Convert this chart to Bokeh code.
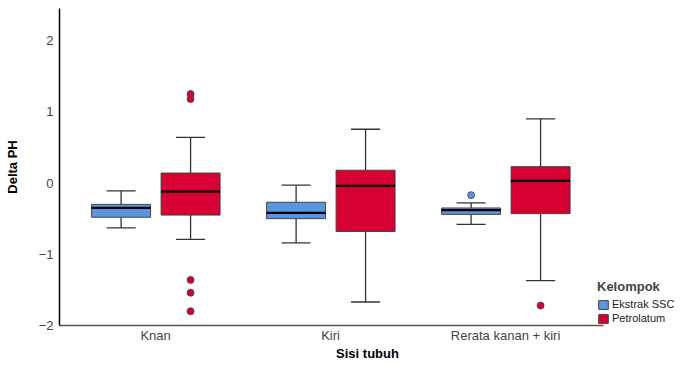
import numpy as np
from bokeh.plotting import figure
from bokeh.models import ColumnDataSource, FixedTicker, Legend, LegendItem, Range1d
from bokeh.embed import file_html
from bokeh.resources import INLINE

categories = ["Knan", "Kiri", "Rerata kanan + kiri"]
groups = ["Ekstrak SSC", "Petrolatum"]

# Ekstrak SSC
ssc_low = [-0.63, -0.84, -0.58]
ssc_q1 = [-0.48, -0.50, -0.44]
ssc_med = [-0.35, -0.42, -0.38]
ssc_q3 = [-0.30, -0.27, -0.35]
ssc_high = [-0.11, -0.03, -0.28]
ssc_out_cat = [2]
ssc_out_val = [-0.17]

# Petrolatum
pet_low = [-0.79, -1.67, -1.37]
pet_q1 = [-0.45, -0.68, -0.43]
pet_med = [-0.12, -0.04, 0.03]
pet_q3 = [0.14, 0.18, 0.23]
pet_high = [0.64, 0.755, 0.90]
pet_out_cat = [0, 0, 0, 0, 0, 2]
pet_out_val = [1.25, 1.18, -1.36, -1.54, -1.80, -1.72]

y_ticks = [-2, -1, 0, 1, 2]

colors = ["#5896E2", "#D60032"]
offsets = [-0.197, 0.2]
box_w = 0.337
cap_w = 0.166
x_start, x_axis_end = -0.049, 3.06

p = figure(width=675, height=363, output_backend="svg", toolbar_location=None,
           x_range=Range1d(x_start, x_start + 616 / 175.0), y_range=Range1d(-2.0, 2.45),
           min_border_left=59, min_border_right=0, min_border_top=8, min_border_bottom=30)
p.outline_line_color = None
p.grid.grid_line_color = None
p.background_fill_color = "white"

series = [
    (ssc_low, ssc_q1, ssc_med, ssc_q3, ssc_high, ssc_out_cat, ssc_out_val),
    (pet_low, pet_q1, pet_med, pet_q3, pet_high, pet_out_cat, pet_out_val),
]
renderers = []
for gi, (lo, q1, med, q3, hi, oc, ov) in enumerate(series):
    xc = np.arange(len(categories)) + 0.5 + offsets[gi]
    src = ColumnDataSource(dict(x=xc, lo=lo, q1=q1, med=med, q3=q3, hi=hi,
                                cl=xc - cap_w / 2, cr=xc + cap_w / 2,
                                bl=xc - box_w / 2, br=xc + box_w / 2))
    p.segment("x", "q3", "x", "hi", source=src, line_color="#333333", line_width=1.3)
    p.segment("x", "lo", "x", "q1", source=src, line_color="#333333", line_width=1.3)
    p.segment("cl", "hi", "cr", "hi", source=src, line_color="#333333", line_width=1.3)
    p.segment("cl", "lo", "cr", "lo", source=src, line_color="#333333", line_width=1.3)
    r = p.vbar(x="x", width=box_w, bottom="q1", top="q3", source=src,
               fill_color=colors[gi], line_color="#444444", line_width=1)
    renderers.append(r)
    p.segment("bl", "med", "br", "med", source=src, line_color="black", line_width=2.2)
    ox = np.array(oc) + 0.5 + offsets[gi]
    p.scatter(ox, ov, size=7, fill_color=colors[gi], line_color="#444444", line_width=0.8)

p.xaxis.ticker = FixedTicker(ticks=[0.5, 1.5, 2.5])
p.xaxis.major_label_overrides = {0.5: categories[0], 1.5: categories[1], 2.5: categories[2]}
p.xaxis.bounds = (x_start, x_axis_end)
p.yaxis.ticker = FixedTicker(ticks=y_ticks)
for ax in (p.xaxis, p.yaxis):
    ax.major_tick_line_color = None
    ax.minor_tick_line_color = None
    ax.major_tick_out = 0
    ax.major_tick_in = 0
    ax.minor_tick_out = 0
    ax.minor_tick_in = 0
    ax.major_label_text_font = "Liberation Sans"
    ax.major_label_text_font_size = "13px"
    ax.major_label_text_color = "#444444"
    ax.axis_label_text_font = "Liberation Sans"
    ax.axis_label_text_font_size = "13px"
    ax.axis_label_text_font_style = "bold"
    ax.axis_label_text_color = "black"
p.xaxis.axis_line_color = "#555555"
p.xaxis.axis_line_width = 1.5
p.yaxis.axis_line_color = "black"
p.yaxis.axis_line_width = 1.5
p.xaxis.axis_label = "Sisi tubuh"
p.yaxis.axis_label = "Delta PH"
p.xaxis.major_label_standoff = 2
p.xaxis.axis_label_standoff = 0
p.yaxis.major_label_standoff = 6
p.yaxis.axis_label_standoff = 16

legend = Legend(items=[LegendItem(label=groups[i], renderers=[renderers[i]]) for i in range(2)],
                location=(538, 1), title="Kelompok")
legend.title_text_font = "Liberation Sans"
legend.title_text_font_size = "13px"
legend.title_text_font_style = "bold"
legend.title_standoff = 4
legend.label_text_font = "Liberation Sans"
legend.label_text_font_size = "11px"
legend.label_text_color = "#222222"
legend.glyph_width = 12
legend.glyph_height = 11
legend.label_standoff = 3
legend.label_height = 12
legend.spacing = 2
legend.padding = 4
legend.margin = 0
legend.border_line_color = None
legend.background_fill_alpha = 0
p.add_layout(legend)

open("out.html", "w").write(file_html(p, INLINE))
